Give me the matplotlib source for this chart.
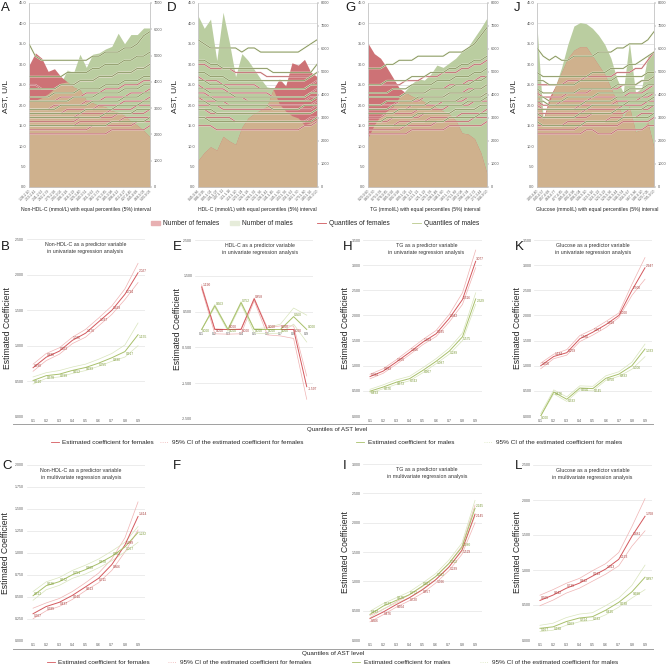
import matplotlib
matplotlib.use("Agg")
import matplotlib.pyplot as plt
import matplotlib.patheffects as pe
from matplotlib.lines import Line2D
from matplotlib.patches import Patch
import numpy as np

plt.rcParams['font.family'] = ['Liberation Sans', 'DejaVu Sans']

W, H = 669, 665

# ---------------- top row: counts per 5% interval and AST quantiles ----------------
nonhdl_edges = [1.38, 2.10, 2.41, 2.62, 2.79, 2.93, 3.06, 3.18, 3.29, 3.40, 3.51,
                3.62, 3.73, 3.85, 3.98, 4.12, 4.27, 4.45, 4.68, 5.03, 9.03]
hdl_edges = [0.45, 0.86, 0.95, 1.01, 1.07, 1.11, 1.16, 1.20, 1.24, 1.28, 1.32,
             1.36, 1.41, 1.45, 1.50, 1.56, 1.62, 1.70, 1.80, 1.96, 3.00]
tg_edges = [0.20, 0.60, 0.70, 0.78, 0.85, 0.92, 0.99, 1.06, 1.13, 1.21, 1.29,
            1.38, 1.48, 1.60, 1.73, 1.89, 2.08, 2.34, 2.72, 3.44, 9.00]
glu_edges = [3.00, 4.40, 4.57, 4.68, 4.77, 4.85, 4.92, 4.98, 5.04, 5.10, 5.16,
             5.22, 5.29, 5.36, 5.44, 5.54, 5.67, 5.86, 6.20, 7.05, 9.00]

a_females = [4630, 5100, 4900, 4400, 4500, 4200, 4000, 3800, 3700, 3300,
             3200, 3100, 3050, 2900, 2850, 2720, 2500, 2350, 2150, 1900]
a_males = [3300, 3300, 3400, 3550, 3750, 3950, 4450, 4350, 5050, 4550,
           5050, 5100, 5250, 5350, 5850, 5450, 5800, 5800, 6050, 6050]
d_females = [1150, 1500, 1750, 1600, 2200, 2000, 1850, 2600, 3000, 3200,
             3350, 3500, 4250, 4700, 4400, 5400, 5300, 5550, 5000, 4800]
d_males = [7450, 6900, 7300, 5500, 7600, 6300, 4800, 5800, 5500, 5100,
           4700, 4350, 4300, 3600, 3300, 3100, 3000, 2700, 2800, 2950]
g_females = [6250, 5800, 5600, 5200, 4750, 4300, 4100, 3950, 3850, 3700,
             3550, 3450, 3300, 3150, 2900, 2350, 2300, 2100, 1500, 580]
g_males = [2150, 2700, 3100, 3300, 3500, 3900, 4200, 4500, 4700, 4650,
           4900, 5300, 5200, 5400, 5600, 5900, 6100, 6500, 6900, 7350]
j_females = [4350, 2900, 3900, 4400, 5000, 5600, 5950, 6100, 6100, 5700,
             5300, 4900, 4300, 3700, 3000, 3500, 2400, 2500, 2800, 1700]
j_males = [7000, 3000, 3700, 4400, 5200, 6200, 7000, 7150, 7100, 6900,
           6600, 6200, 5600, 4700, 4100, 6300, 4100, 4300, 5700, 5900]

# AST quantiles 0.1 .. 0.9 (rows) per interval (columns)
a_fem_q = [
    [13, 13, 13, 13, 13, 13, 13, 13, 13, 13, 13, 13, 13, 14, 14, 14, 14, 14, 14, 15],
    [14, 14, 14, 14, 14, 14, 14, 14, 14, 14, 15, 15, 15, 15, 15, 15, 15, 16, 16, 16],
    [15, 15, 15, 15, 15, 15, 15, 15, 16, 16, 16, 16, 16, 16, 16, 17, 17, 17, 17, 17],
    [16, 16, 16, 16, 16, 16, 16, 16, 17, 17, 17, 17, 17, 17, 18, 18, 18, 18, 18, 19],
    [17, 17, 17, 17, 17, 17, 17, 17, 18, 18, 18, 18, 18, 19, 19, 19, 19, 20, 20, 20],
    [18, 18, 18, 18, 18, 18, 19, 19, 19, 19, 19, 20, 20, 20, 20, 21, 21, 21, 21, 22],
    [19, 19, 19, 19, 20, 20, 20, 20, 20, 21, 21, 21, 22, 22, 22, 22, 23, 23, 23, 24],
    [21, 21, 21, 21, 21, 22, 22, 22, 22, 23, 23, 23, 24, 24, 24, 25, 25, 25, 26, 26],
    [25, 25, 24, 24, 24, 25, 25, 25, 26, 26, 26, 27, 27, 27, 28, 28, 28, 29, 29, 30],
]
a_male_q = [
    [15, 15, 15, 15, 15, 15, 15, 15, 15, 15, 15, 15, 15, 16, 16, 16, 16, 16, 16, 17],
    [17, 17, 17, 17, 17, 17, 17, 17, 17, 17, 17, 17, 18, 18, 18, 18, 18, 19, 19, 19],
    [18, 18, 18, 18, 18, 18, 18, 18, 18, 19, 19, 19, 19, 19, 20, 20, 20, 20, 21, 21],
    [19, 19, 19, 19, 19, 20, 20, 20, 20, 20, 21, 21, 21, 21, 21, 22, 22, 22, 23, 23],
    [21, 21, 21, 21, 21, 21, 21, 22, 22, 22, 22, 23, 23, 23, 23, 24, 24, 24, 25, 25],
    [22, 22, 22, 22, 23, 23, 23, 23, 24, 24, 24, 24, 25, 25, 25, 26, 26, 26, 27, 27],
    [24, 24, 24, 24, 24, 25, 25, 25, 26, 26, 26, 27, 27, 27, 28, 28, 28, 29, 29, 30],
    [27, 27, 27, 27, 27, 27, 28, 28, 28, 28, 29, 29, 30, 30, 30, 31, 31, 32, 32, 33],
    [35, 32, 31, 31, 31, 31, 31, 31, 31, 31, 32, 32, 33, 33, 33, 34, 34, 35, 37, 38],
]
d_fem_q = [
    [15, 15, 15, 14, 14, 14, 14, 14, 14, 14, 14, 14, 14, 14, 14, 14, 14, 15, 15, 16],
    [17, 17, 17, 17, 17, 17, 16, 16, 16, 16, 16, 16, 16, 16, 16, 16, 16, 16, 17, 17],
    [19, 19, 18, 18, 18, 18, 18, 18, 18, 18, 18, 18, 18, 18, 18, 18, 18, 18, 18, 19],
    [20, 20, 20, 20, 19, 19, 19, 19, 19, 19, 19, 19, 19, 19, 19, 19, 19, 19, 19, 20],
    [22, 21, 21, 21, 21, 20, 20, 20, 20, 20, 20, 20, 20, 20, 20, 20, 20, 20, 20, 21],
    [23, 23, 22, 22, 22, 22, 22, 22, 21, 21, 21, 21, 21, 21, 21, 21, 21, 21, 22, 22],
    [25, 24, 24, 24, 24, 23, 23, 23, 23, 23, 23, 23, 22, 22, 22, 22, 22, 22, 23, 24],
    [27, 26, 26, 26, 25, 25, 25, 25, 25, 25, 24, 24, 24, 24, 24, 24, 24, 24, 25, 26],
    [30, 30, 29, 29, 29, 29, 28, 28, 28, 28, 28, 27, 27, 27, 27, 27, 27, 27, 27, 28],
]
d_male_q = [
    [17, 17, 16, 16, 16, 16, 16, 16, 16, 16, 16, 16, 16, 16, 16, 16, 16, 16, 16, 17],
    [19, 19, 19, 18, 18, 18, 18, 18, 18, 18, 18, 18, 18, 18, 18, 18, 18, 18, 18, 19],
    [21, 21, 20, 20, 20, 20, 20, 20, 20, 20, 20, 20, 19, 19, 19, 19, 19, 20, 20, 20],
    [22, 22, 22, 21, 21, 21, 21, 21, 21, 21, 21, 21, 21, 21, 21, 21, 21, 21, 21, 22],
    [24, 24, 23, 23, 23, 23, 22, 22, 22, 22, 22, 22, 22, 22, 22, 22, 22, 22, 23, 23],
    [26, 26, 25, 25, 25, 24, 24, 24, 24, 24, 24, 24, 24, 24, 24, 24, 24, 24, 25, 25],
    [28, 28, 27, 27, 27, 26, 26, 26, 26, 26, 26, 26, 26, 26, 26, 26, 26, 26, 27, 28],
    [31, 31, 30, 30, 29, 29, 29, 29, 29, 29, 29, 29, 28, 28, 28, 28, 28, 28, 28, 30],
    [36, 35, 34, 34, 34, 34, 34, 33, 34, 34, 33, 33, 33, 33, 33, 33, 33, 34, 35, 36],
]
g_fem_q = [
    [13, 13, 13, 13, 13, 13, 13, 14, 14, 14, 14, 14, 14, 15, 15, 15, 15, 15, 15, 16],
    [14, 14, 14, 14, 14, 14, 15, 15, 15, 15, 15, 16, 16, 16, 16, 16, 16, 17, 17, 17],
    [15, 15, 15, 15, 15, 16, 16, 16, 16, 16, 17, 17, 17, 17, 17, 18, 18, 18, 18, 19],
    [16, 16, 16, 16, 17, 17, 17, 17, 17, 18, 18, 18, 18, 18, 19, 19, 19, 19, 20, 20],
    [17, 17, 17, 18, 18, 18, 18, 18, 19, 19, 19, 19, 19, 20, 20, 20, 20, 21, 21, 21],
    [19, 19, 19, 19, 19, 19, 19, 20, 20, 20, 20, 20, 21, 21, 21, 21, 22, 22, 22, 23],
    [20, 20, 20, 20, 20, 21, 21, 21, 21, 22, 22, 22, 22, 23, 23, 23, 24, 24, 24, 25],
    [22, 22, 22, 22, 22, 22, 23, 23, 23, 23, 24, 24, 24, 25, 25, 25, 26, 26, 27, 27],
    [25, 25, 25, 25, 25, 25, 26, 26, 26, 27, 27, 27, 28, 28, 28, 29, 29, 30, 30, 31],
]
g_male_q = [
    [15, 15, 15, 15, 15, 15, 15, 16, 16, 16, 16, 16, 16, 17, 17, 17, 17, 17, 18, 18],
    [16, 16, 16, 17, 17, 17, 17, 17, 18, 18, 18, 18, 18, 18, 19, 19, 19, 19, 20, 20],
    [18, 18, 18, 18, 18, 19, 19, 19, 19, 19, 19, 20, 20, 20, 20, 20, 21, 21, 21, 22],
    [19, 19, 19, 19, 20, 20, 20, 20, 20, 20, 21, 21, 21, 21, 21, 22, 22, 22, 22, 23],
    [20, 20, 20, 21, 21, 21, 21, 21, 22, 22, 22, 22, 22, 23, 23, 23, 23, 24, 24, 25],
    [22, 22, 22, 22, 22, 22, 23, 23, 23, 23, 24, 24, 24, 24, 25, 25, 25, 26, 26, 27],
    [23, 23, 23, 23, 24, 24, 24, 25, 25, 25, 25, 26, 26, 26, 27, 27, 27, 28, 28, 29],
    [25, 25, 25, 26, 26, 26, 26, 27, 27, 27, 28, 28, 28, 29, 29, 30, 30, 31, 31, 32],
    [29, 29, 29, 30, 30, 31, 31, 31, 32, 32, 32, 32, 32, 33, 33, 33, 34, 35, 37, 39],
]
j_fem_q = [
    [13, 13, 13, 13, 13, 13, 13, 13, 14, 14, 13, 13, 13, 14, 14, 14, 14, 14, 15, 15],
    [14, 14, 14, 14, 14, 14, 14, 15, 15, 15, 15, 15, 15, 15, 16, 16, 16, 16, 16, 17],
    [15, 15, 15, 15, 15, 16, 16, 16, 16, 16, 16, 16, 17, 17, 17, 17, 17, 18, 18, 18],
    [17, 17, 17, 17, 17, 17, 17, 17, 17, 18, 18, 18, 18, 18, 18, 19, 19, 19, 19, 20],
    [18, 18, 18, 18, 18, 18, 18, 18, 19, 19, 19, 19, 19, 19, 20, 20, 20, 20, 21, 21],
    [20, 19, 19, 19, 19, 19, 19, 20, 20, 20, 20, 20, 20, 21, 21, 21, 21, 22, 22, 23],
    [21, 20, 20, 20, 21, 21, 21, 21, 21, 22, 22, 22, 22, 22, 22, 23, 23, 23, 24, 25],
    [23, 22, 22, 22, 22, 23, 23, 23, 23, 24, 24, 24, 24, 24, 25, 25, 25, 26, 26, 27],
    [25, 25, 25, 25, 25, 26, 26, 26, 27, 27, 27, 27, 27, 28, 28, 28, 29, 29, 31, 33],
]
j_male_q = [
    [16, 15, 15, 15, 15, 15, 15, 15, 16, 16, 16, 16, 16, 16, 17, 17, 17, 17, 17, 18],
    [18, 17, 17, 17, 17, 17, 17, 18, 18, 18, 18, 18, 18, 19, 19, 19, 19, 19, 20, 20],
    [19, 19, 19, 19, 19, 19, 19, 19, 19, 20, 20, 20, 20, 20, 20, 21, 21, 21, 21, 22],
    [21, 21, 20, 20, 20, 20, 20, 20, 21, 21, 21, 21, 21, 22, 22, 22, 22, 22, 23, 23],
    [22, 22, 21, 21, 21, 22, 22, 22, 22, 22, 23, 23, 23, 23, 23, 24, 24, 24, 25, 25],
    [24, 23, 23, 23, 23, 23, 23, 24, 24, 24, 24, 24, 24, 25, 25, 25, 25, 26, 26, 27],
    [26, 26, 25, 25, 25, 25, 25, 26, 26, 26, 26, 26, 26, 27, 27, 27, 27, 27, 28, 28],
    [28, 27, 27, 27, 27, 27, 27, 27, 27, 28, 28, 28, 29, 29, 29, 30, 30, 31, 32, 33],
    [34, 32, 31, 32, 31, 31, 32, 32, 32, 32, 33, 33, 33, 34, 34, 35, 35, 35, 36, 38],
]

# ---------------- middle / bottom rows: quantile regression coefficients ----------------
quantiles = [0.1, 0.2, 0.3, 0.4, 0.5, 0.6, 0.7, 0.8, 0.9]

b_fem = [0.690, 0.838, 0.923, 1.076, 1.176, 1.337, 1.498, 1.724, 2.027]
b_fem_hi = [0.74, 0.89, 0.97, 1.12, 1.23, 1.39, 1.56, 1.80, 2.16]
b_fem_lo = [0.64, 0.79, 0.88, 1.03, 1.12, 1.28, 1.44, 1.65, 1.89]
b_male = [0.510, 0.578, 0.599, 0.652, 0.693, 0.755, 0.830, 0.917, 1.155]
b_male_hi = [0.56, 0.62, 0.65, 0.70, 0.74, 0.81, 0.89, 1.01, 1.32]
b_male_lo = [0.46, 0.54, 0.56, 0.61, 0.65, 0.71, 0.78, 0.84, 1.00]

e_fem = [1.190, 0.000, 0.000, 0.000, 0.858, 0.000, 0.000, 0.000, -1.597]
e_fem_hi = [1.25, 0.02, 0.00, 0.02, 0.88, 0.05, 0.10, 0.10, -1.30]
e_fem_lo = [1.13, -0.12, -0.13, -0.12, 0.80, -0.15, -0.18, -0.25, -1.95]
e_male = [0.000, 0.663, 0.000, 0.752, 0.000, 0.000, 0.000, 0.360, 0.000]
e_male_hi = [0.00, 0.70, 0.02, 0.78, 0.02, 0.05, 0.15, 0.60, 0.40]
e_male_lo = [0.00, 0.62, -0.05, 0.70, -0.10, -0.12, -0.10, 0.15, -0.35]

h_fem = [0.784, 0.893, 1.075, 1.266, 1.469, 1.635, 1.942, 2.316, 3.077]
h_fem_hi = [0.83, 0.94, 1.12, 1.32, 1.52, 1.70, 2.02, 2.45, 3.30]
h_fem_lo = [0.74, 0.85, 1.03, 1.22, 1.42, 1.58, 1.87, 2.22, 2.95]
h_male = [0.493, 0.576, 0.673, 0.743, 0.907, 1.087, 1.289, 1.575, 2.329]
h_male_hi = [0.53, 0.62, 0.72, 0.79, 0.96, 1.14, 1.35, 1.65, 2.45]
h_male_lo = [0.46, 0.54, 0.63, 0.70, 0.86, 1.04, 1.23, 1.50, 2.22]

k_fem = [1.000, 1.184, 1.259, 1.536, 1.667, 1.818, 2.000, 2.500, 2.947]
k_fem_hi = [1.05, 1.23, 1.32, 1.60, 1.72, 1.88, 2.05, 2.62, 3.15]
k_fem_lo = [0.94, 1.14, 1.21, 1.48, 1.61, 1.76, 1.96, 2.40, 2.72]
k_male = [0.000, 0.476, 0.333, 0.556, 0.545, 0.750, 0.833, 1.000, 1.333]
k_male_hi = [0.05, 0.52, 0.38, 0.60, 0.59, 0.80, 0.88, 1.07, 1.43]
k_male_lo = [0.00, 0.44, 0.29, 0.52, 0.50, 0.71, 0.79, 0.93, 1.18]

c_fem = [0.307, 0.389, 0.437, 0.516, 0.613, 0.711, 0.866, 1.089, 1.414]
c_fem_hi = [0.37, 0.43, 0.48, 0.56, 0.66, 0.77, 0.93, 1.17, 1.58]
c_fem_lo = [0.25, 0.34, 0.39, 0.47, 0.57, 0.66, 0.80, 1.01, 1.26]
c_male = [0.512, 0.626, 0.672, 0.751, 0.809, 0.878, 0.961, 1.067, 1.232]
c_male_hi = [0.56, 0.67, 0.72, 0.80, 0.86, 0.93, 1.02, 1.12, 1.30]
c_male_lo = [0.46, 0.58, 0.63, 0.71, 0.76, 0.83, 0.91, 1.01, 1.12]

i_fem = [0.366, 0.476, 0.604, 0.720, 0.857, 1.026, 1.239, 1.529, 2.145]
i_fem_hi = [0.42, 0.52, 0.65, 0.77, 0.91, 1.08, 1.30, 1.60, 2.30]
i_fem_lo = [0.31, 0.43, 0.56, 0.67, 0.80, 0.97, 1.18, 1.46, 2.00]
i_male = [0.437, 0.577, 0.675, 0.772, 0.921, 1.082, 1.302, 1.580, 2.245]
i_male_hi = [0.49, 0.62, 0.72, 0.82, 0.97, 1.13, 1.36, 1.65, 2.38]
i_male_lo = [0.38, 0.53, 0.63, 0.72, 0.87, 1.03, 1.25, 1.51, 2.12]

l_fem = [0.565, 0.642, 0.739, 0.812, 0.913, 1.013, 1.153, 1.481, 1.768]
l_fem_hi = [0.64, 0.72, 0.81, 0.88, 0.99, 1.09, 1.25, 1.62, 2.02]
l_fem_lo = [0.49, 0.57, 0.67, 0.74, 0.84, 0.94, 1.06, 1.34, 1.56]
l_male = [0.167, 0.188, 0.263, 0.314, 0.333, 0.425, 0.538, 0.688, 0.897]
l_male_hi = [0.21, 0.24, 0.32, 0.37, 0.39, 0.49, 0.60, 0.78, 1.07]
l_male_lo = [0.12, 0.14, 0.21, 0.26, 0.28, 0.36, 0.47, 0.60, 0.72]

# colours
AREA_F = "#cd7276"
AREA_M = "#bacda0"
AREA_BOTH = "#cfb18d"
QLINE_F = "#b65a5e"
QLINE_M = "#76844a"
EST_F = "#d4585d"
CI_F = "#efb3b3"
EST_M = "#a8c06a"
CI_M = "#d9e5bd"
LAB_F = "#a8403e"
LAB_M = "#7d9a3a"
TICK_C = "#595959"

fig = plt.figure(figsize=(W / 100, H / 100), dpi=100)


def rect(l, r, t, b):
    return [l / W, 1 - b / H, (r - l) / W, (b - t) / H]


def fig_text(x, y, s, **kw):
    fig.text(x / W, 1 - y / H, s, **kw)


def dist_panel(box, edges, females, males, fem_q, male_q, count_max, xlabel, xlabel_x):
    ax = fig.add_axes(rect(*box))
    ax2 = ax.twinx()
    ax.set_zorder(ax2.get_zorder() + 1)
    ax.patch.set_visible(False)
    x = np.arange(len(females))
    f = np.array(females)
    m = np.array(males)
    ax2.fill_between(x, 0, m, color=AREA_M, lw=0, zorder=2)
    ax2.fill_between(x, 0, f, color=AREA_F, lw=0, zorder=2)
    ax2.fill_between(x, 0, np.minimum(f, m), color=AREA_BOTH, lw=0, zorder=3)
    ax2.hlines(np.arange(5, 46, 5), 0, len(x) - 1, transform=ax.transData,
               color="#d9d9d9", lw=0.5, zorder=1)
    ax2.set_ylim(0, count_max)
    ax2.set_yticks(np.arange(0, count_max + 1, 1000))
    ax2.tick_params(axis='y', labelsize=2.8, length=1.2, width=0.3, pad=1.5,
                    colors=TICK_C)
    for row in fem_q:
        ax.plot(x, row, color=QLINE_F, lw=0.5,
                path_effects=[pe.withStroke(linewidth=1.2, foreground="#f0cfcf")])
    for row in male_q:
        ax.plot(x, row, color=QLINE_M, lw=0.5,
                path_effects=[pe.withStroke(linewidth=1.2, foreground="#e3ead2")])
    ax.set_xlim(0, len(x) - 1)
    ax.set_ylim(0, 45)
    ax.set_yticks(np.arange(0, 46, 5))
    ax.set_yticklabels([f"{v:.1f}" for v in np.arange(0, 46, 5)])
    ax.tick_params(axis='y', labelsize=2.8, length=0, pad=2, colors=TICK_C)
    ax.set_xticks(x)
    ax.set_xticklabels([f"{lo:.2f}-{hi:.2f}" for lo, hi in zip(edges[:-1], edges[1:])],
                       rotation=45, ha='right', rotation_mode='anchor')
    ax.tick_params(axis='x', labelsize=2.4, length=0, pad=1, colors=TICK_C)
    for a in (ax, ax2):
        a.spines['top'].set_visible(False)
        for s in ('left', 'right', 'bottom'):
            a.spines[s].set_color("#c8c8c8")
            a.spines[s].set_linewidth(0.5)
    fig_text(xlabel_x, 210, xlabel, fontsize=3.7, ha='center', va='center', color="#262626")
    fig_text(box[0] - 23, 96, "AST, U/L", fontsize=6, rotation=90, ha='center',
             va='center', color="#262626")
    return ax


def coef_panel(box, title, title_x, ylim, ystep, fem, fem_lo, fem_hi,
               male, male_lo, male_hi, ylabel_x, zero_axis=False):
    ax = fig.add_axes(rect(*box))
    ax.plot(quantiles, fem_hi, color=CI_F, lw=0.5)
    ax.plot(quantiles, fem_lo, color=CI_F, lw=0.5)
    ax.plot(quantiles, male_hi, color=CI_M, lw=0.5)
    ax.plot(quantiles, male_lo, color=CI_M, lw=0.5)
    ax.plot(quantiles, fem, color=EST_F, lw=0.7)
    ax.plot(quantiles, male, color=EST_M, lw=0.7)
    for q, vf, vm in zip(quantiles, fem, male):
        f_up = vf >= vm
        ax.text(q + 0.005, vf, f"{vf:.3f}", fontsize=2.3, color=LAB_F, ha='left',
                va='bottom' if f_up else 'top')
        ax.text(q + 0.005, vm, f"{vm:.3f}", fontsize=2.3, color=LAB_M, ha='left',
                va='top' if f_up else 'bottom')
    ax.set_xlim(0.05, 0.95)
    ax.set_ylim(*ylim)
    ticks = np.arange(ylim[0], ylim[1] + ystep / 2, ystep)
    ax.set_yticks(ticks)
    ax.set_yticklabels([f"{t:.3f}" for t in ticks])
    ax.set_xticks(quantiles)
    ax.set_xticklabels([f"{q:.1f}" for q in quantiles])
    ax.tick_params(labelsize=2.5, length=0, pad=2, colors=TICK_C)
    ax.yaxis.grid(True, color="#e4e4e4", lw=0.5)
    ax.set_axisbelow(True)
    for s in ax.spines.values():
        s.set_visible(False)
    if zero_axis:
        ax.spines['bottom'].set_position(('data', 0))
    ax.text(title_x, 0.985, title, transform=ax.transAxes, fontsize=3.8,
            ha='center', va='top', color="#333333", linespacing=1.5)
    mid = (box[2] + box[3]) / 2
    fig_text(ylabel_x, mid, "Estimated Coefficient", fontsize=6.2, rotation=90,
             ha='center', va='center', color="#262626")
    return ax


# top row
dist_panel((29, 150, 3, 187), nonhdl_edges, a_females, a_males, a_fem_q, a_male_q, 7000,
           "Non-HDL-C (mmol/L) with equal percentiles (5%) interval", 86)
dist_panel((198, 317, 3, 187), hdl_edges, d_females, d_males, d_fem_q, d_male_q, 8000,
           "HDL-C (mmol/L) with equal percentiles (5%) interval", 257)
dist_panel((368, 487, 3, 187), tg_edges, g_females, g_males, g_fem_q, g_male_q, 8000,
           "TG (mmol/L) with equal percentiles (5%) interval", 425)
dist_panel((537, 654, 3, 187), glu_edges, j_females, j_males, j_fem_q, j_male_q, 8000,
           "Glucose (mmol/L) with equal percentiles (5%) interval", 597)

# middle row
uni = "in univariate regression analysis"
coef_panel((26.5, 144.6, 239.2, 416.7), "Non-HDL-C as a predictor variable\n" + uni, 0.5,
           (0, 2.5), 0.5, b_fem, b_fem_lo, b_fem_hi, b_male, b_male_lo, b_male_hi, 8)
coef_panel((195.1, 313.3, 240, 419), "HDL-C as a predictor variable\n" + uni, 0.55,
           (-2.5, 2.5), 1.0, e_fem, e_fem_lo, e_fem_hi, e_male, e_male_lo, e_male_hi, 177,
           zero_axis=True)
coef_panel((363.4, 482.3, 240, 416), "TG as a predictor variable\n" + uni, 0.53,
           (0, 3.5), 0.5, h_fem, h_fem_lo, h_fem_hi, h_male, h_male_lo, h_male_hi, 345)
coef_panel((534.2, 651.5, 240, 416), "Glucose as a predictor variable\n" + uni, 0.5,
           (0, 3.5), 0.5, k_fem, k_fem_lo, k_fem_hi, k_male, k_male_lo, k_male_hi, 517)

# bottom row
multi = "in multivariate regression analysis"
coef_panel((26.5, 144.6, 465, 640.7), "Non-HDL-C as a predictor variable\n" + multi, 0.46,
           (0, 2.0), 0.25, c_fem, c_fem_lo, c_fem_hi, c_male, c_male_lo, c_male_hi, 6)
coef_panel((363.4, 481.6, 464, 640), "TG as a predictor variable\n" + multi, 0.54,
           (0, 3.0), 0.5, i_fem, i_fem_lo, i_fem_hi, i_male, i_male_lo, i_male_hi, 345)
coef_panel((533.4, 651.6, 465, 640), "Glucose as a predictor variable\n" + multi, 0.5,
           (0, 2.5), 0.5, l_fem, l_fem_lo, l_fem_hi, l_male, l_male_lo, l_male_hi, 517)

# panel letters
for letter, x, y in [("A", 1, 8), ("D", 167, 8), ("G", 345, 8), ("J", 514, 8),
                     ("B", 1, 247), ("E", 173, 247), ("H", 343, 247), ("K", 515, 247),
                     ("C", 2, 466), ("F", 173, 466), ("I", 343, 466), ("L", 515, 466)]:
    fig_text(x, y, letter, fontsize=9.5, ha='left', va='center', color="#1a1a1a")

# separators + shared x labels
for y in (424, 649):
    fig.add_artist(Line2D([13 / W, 653 / W], [1 - y / H, 1 - y / H], color="#a0a0a0", lw=0.7))
fig_text(337, 430, "Quantiles of AST level", fontsize=4.4, ha='center', va='center', color="#262626")
fig_text(333, 654, "Quantiles of AST level", fontsize=4.6, ha='center', va='center', color="#262626")


def legend_item(handle, label, x, y, size):
    leg = fig.legend([handle], [label], loc='center left', bbox_to_anchor=(x / W, 1 - y / H),
                     frameon=False, fontsize=size, handlelength=1.3, handletextpad=0.5,
                     borderpad=0, borderaxespad=0)
    for t in leg.get_texts():
        t.set_color("#262626")


# top legend
legend_item(Patch(color="#e8b0b2"), "Number of females", 151, 224, 4.8)
legend_item(Patch(color="#e6ecda"), "Number of males", 230, 224, 4.8)
legend_item(Line2D([], [], color="#d0575c", lw=0.6), "Quantiles of females", 317, 224, 4.8)
legend_item(Line2D([], [], color="#b9c98a", lw=0.6), "Quantiles of males", 412, 224, 4.8)

# coefficient legends
for y, xs in [(442.5, (51, 160, 356, 484)), (662, (47, 168, 352, 480))]:
    legend_item(Line2D([], [], color=EST_F, lw=0.6), "Estimated coefficient for females", xs[0], y, 4.6)
    legend_item(Line2D([], [], color=CI_F, lw=0.6, ls=':'),
                "95% CI of the estimated coefficient for females", xs[1], y, 4.6)
    legend_item(Line2D([], [], color=EST_M, lw=0.6), "Estimated coefficient for males", xs[2], y, 4.6)
    legend_item(Line2D([], [], color=CI_M, lw=0.6, ls=':'),
                "95% CI of the estimated coefficient for males", xs[3], y, 4.6)

fig.savefig("out.png", dpi=100, facecolor="white")
